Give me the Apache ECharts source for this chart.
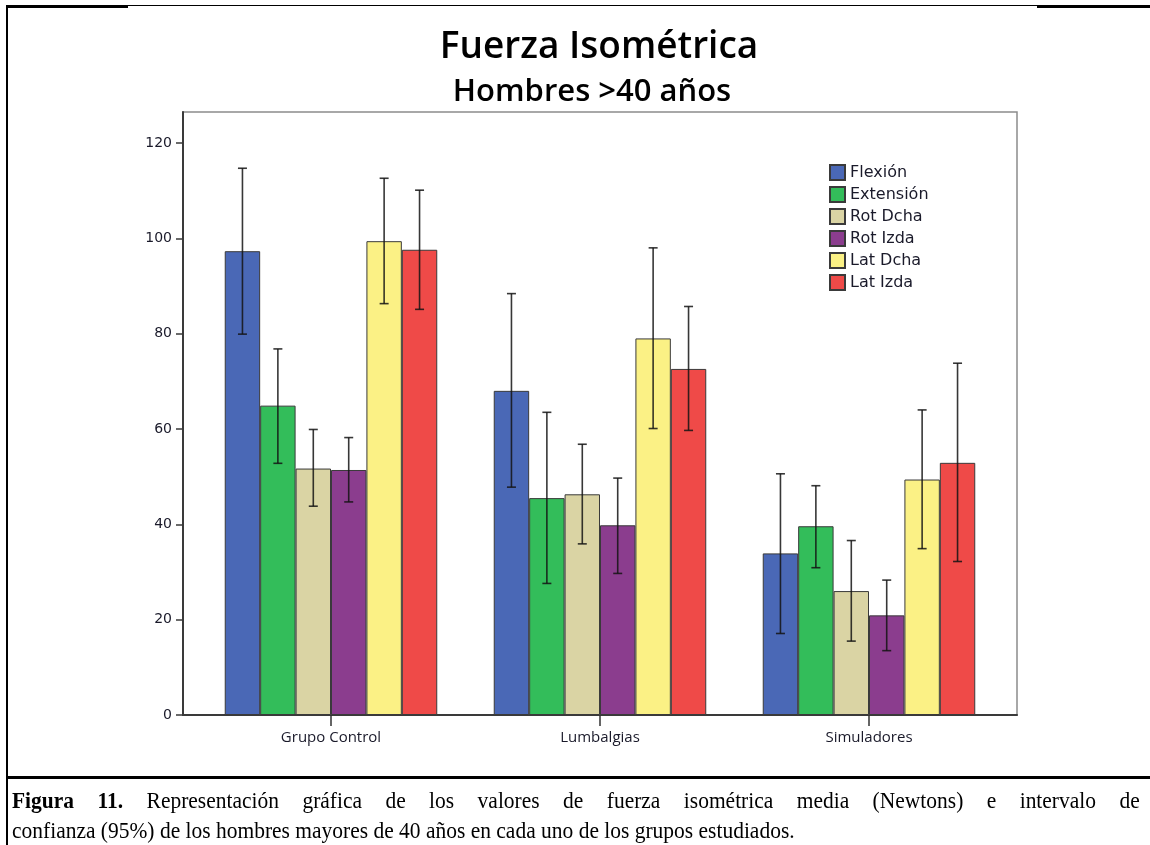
<!DOCTYPE html>
<html>
<head>
<meta charset="utf-8">
<script src="https://cdn.jsdelivr.net/npm/echarts@6/dist/echarts.min.js"></script>
<style>
  html, body { margin: 0; padding: 0; background: #fff; }
  #wrap { position: relative; width: 1150px; height: 845px; overflow: hidden; background: #fff; }
  #chart { position: absolute; left: 0; top: 0; width: 1150px; height: 845px; }
  .rule { position: absolute; background: #000; }
  #caption {
    position: absolute; left: 12px; top: 785px; width: 1260px;
    transform: scaleX(0.895); transform-origin: 0 0;
    font-family: "Liberation Serif", "Times New Roman", serif;
    font-size: 24px; line-height: 30px; color: #000;
  }
  #caption .l1 { white-space: nowrap; text-align: justify; text-align-last: justify; }
  #caption .l2 { white-space: nowrap; text-align: left; }
</style>
</head>
<body>
<div id="wrap">
  <div id="chart"></div>
  <div class="rule" style="left:6px;top:5px;width:122px;height:3px"></div>
  <div class="rule" style="left:128px;top:5px;width:910px;height:1px"></div>
  <div class="rule" style="left:1037px;top:5px;width:113px;height:3px"></div>
  <div class="rule" style="left:6px;top:5px;width:2px;height:840px"></div>
  <div class="rule" style="left:6px;top:776px;width:1144px;height:3px"></div>
  <div id="caption">
    <div class="l1"><b>Figura 11.</b> Representación gráfica de los valores de fuerza isométrica media (Newtons) e intervalo de</div>
    <div class="l2">confianza (95%) de los hombres mayores de 40 años en cada uno de los grupos estudiados.</div>
  </div>
</div>
<script>
// Groups on the category axis
const groups = ['Grupo Control', 'Lumbalgias', 'Simuladores'];
// Movement names (legend order)
const movements = ['Flexión', 'Extensión', 'Rot Dcha', 'Rot Izda', 'Lat Dcha', 'Lat Izda'];

// Mean isometric force (N) per group
const flexion   = [97.3, 68.0, 33.9];
const extension = [64.9, 45.5, 39.6];
const rotDcha   = [51.7, 46.3, 26.0];
const rotIzda   = [51.4, 39.8, 20.9];
const latDcha   = [99.4, 79.0, 49.4];
const latIzda   = [97.6, 72.6, 52.9];

// 95% confidence intervals [low, high] per group
const flexionCI   = [[79.9, 114.7], [47.8, 88.4], [17.1, 50.6]];
const extensionCI = [[52.8, 76.8], [27.6, 63.5], [30.9, 48.1]];
const rotDchaCI   = [[43.8, 59.9], [35.9, 56.8], [15.5, 36.6]];
const rotIzdaCI   = [[44.7, 58.2], [29.7, 49.7], [13.5, 28.3]];
const latDchaCI   = [[86.3, 112.6], [60.1, 98.0], [34.9, 64.0]];
const latIzdaCI   = [[85.1, 110.1], [59.7, 85.7], [32.2, 73.8]];

// Y axis tick values
const yTicks = [0, 20, 40, 60, 80, 100, 120];
const yMax = 126.5;

const colors = ['#4a68b6', '#33bd5a', '#dad4a4', '#8b3d8e', '#fbf185', '#ef4a48'];
const means = [flexion, extension, rotDcha, rotIzda, latDcha, latIzda];
const cis = [flexionCI, extensionCI, rotDchaCI, rotIzdaCI, latDchaCI, latIzdaCI];

const CAT_GAP = 0.21;
const nBars = movements.length;

const barSeries = movements.map((name, i) => ({
  name: name,
  type: 'bar',
  xAxisIndex: 0,
  yAxisIndex: 0,
  barGap: 0,
  barCategoryGap: (CAT_GAP * 100) + '%',
  data: means[i],
  itemStyle: { color: colors[i], borderColor: '#3a3a3a', borderWidth: 1 },
  emphasis: { disabled: true },
  z: 2
}));

// Confidence interval whiskers, placed over the matching bar of each group
const errSeries = movements.map((name, i) => ({
  name: name + ' IC',
  type: 'custom',
  xAxisIndex: 0,
  yAxisIndex: 0,
  z: 5,
  data: cis[i].map((c, j) => [j, c[0], c[1]]),
  renderItem: function (params, api) {
    const cat = api.value(0);
    const pLo = api.coord([cat, api.value(1)]);
    const pHi = api.coord([cat, api.value(2)]);
    const band = api.size([1, 0])[0];
    const groupW = band * (1 - CAT_GAP);
    const barW = groupW / nBars;
    const x = pLo[0] - groupW / 2 + (i + 0.5) * barW;
    const cap = 4.5;
    const style = { stroke: 'rgba(20,20,20,0.85)', lineWidth: 1.6 };
    return {
      type: 'group',
      children: [
        { type: 'line', shape: { x1: x, y1: pLo[1], x2: x, y2: pHi[1] }, style: style },
        { type: 'line', shape: { x1: x - cap, y1: pHi[1], x2: x + cap, y2: pHi[1] }, style: style },
        { type: 'line', shape: { x1: x - cap, y1: pLo[1], x2: x + cap, y2: pLo[1] }, style: style }
      ]
    };
  }
}));

const chart = echarts.init(document.getElementById('chart'), null, { renderer: 'canvas' });
chart.setOption({
  animation: false,
  backgroundColor: '#fff',
  title: [
    {
      text: 'Fuerza Isométrica', left: 594, top: 24, textAlign: 'center',
      textStyle: { fontFamily: 'Open Sans', fontSize: 37, fontWeight: 600, color: '#000' }
    },
    {
      text: 'Hombres >40 años', left: 587, top: 72, textAlign: 'center',
      textStyle: { fontFamily: 'Open Sans', fontSize: 31, fontWeight: 600, color: '#000' }
    }
  ],
  legend: {
    data: movements,
    orient: 'vertical',
    left: 829,
    top: 164,
    padding: 0,
    itemWidth: 15,
    itemHeight: 15,
    itemGap: 5,
    icon: 'rect',
    selectedMode: false,
    textStyle: { fontFamily: 'DejaVu Sans', fontSize: 16, color: '#1a1a2a' }
  },
  grid: [
    { left: 196.5, right: 146.5, top: 112, bottom: 130 },
    { left: 183, right: 133, top: 112, bottom: 130, show: true, borderColor: '#8c8c8c', borderWidth: 1.5, backgroundColor: 'transparent' }
  ],
  xAxis: [
    {
      type: 'category', gridIndex: 0, data: groups,
      axisLine: { show: false },
      axisTick: { show: true, alignWithLabel: true, length: 11, lineStyle: { color: '#333', width: 1.5 } },
      axisLabel: { fontFamily: 'Open Sans', fontSize: 15, color: '#1a1a2a', margin: 15 }
    },
    {
      type: 'value', gridIndex: 1, min: 0, max: 1,
      axisLine: { show: true, onZero: false, lineStyle: { color: '#3a3a3a', width: 2 } },
      axisTick: { show: false }, axisLabel: { show: false }, splitLine: { show: false }
    }
  ],
  yAxis: [
    { type: 'value', gridIndex: 0, min: 0, max: yMax, show: false, splitLine: { show: false } },
    {
      type: 'value', gridIndex: 1, min: 0, max: yMax,
      axisLine: { show: true, lineStyle: { color: '#3a3a3a', width: 2 } },
      axisTick: { show: true, length: 7, customValues: yTicks, lineStyle: { color: '#3a3a3a', width: 1.5 } },
      axisLabel: { customValues: yTicks, fontFamily: 'DejaVu Sans', fontSize: 14, color: '#1a1a2a', margin: 11 },
      splitLine: { show: false }
    }
  ],
  series: barSeries.concat(errSeries)
});
</script>
</body>
</html>
